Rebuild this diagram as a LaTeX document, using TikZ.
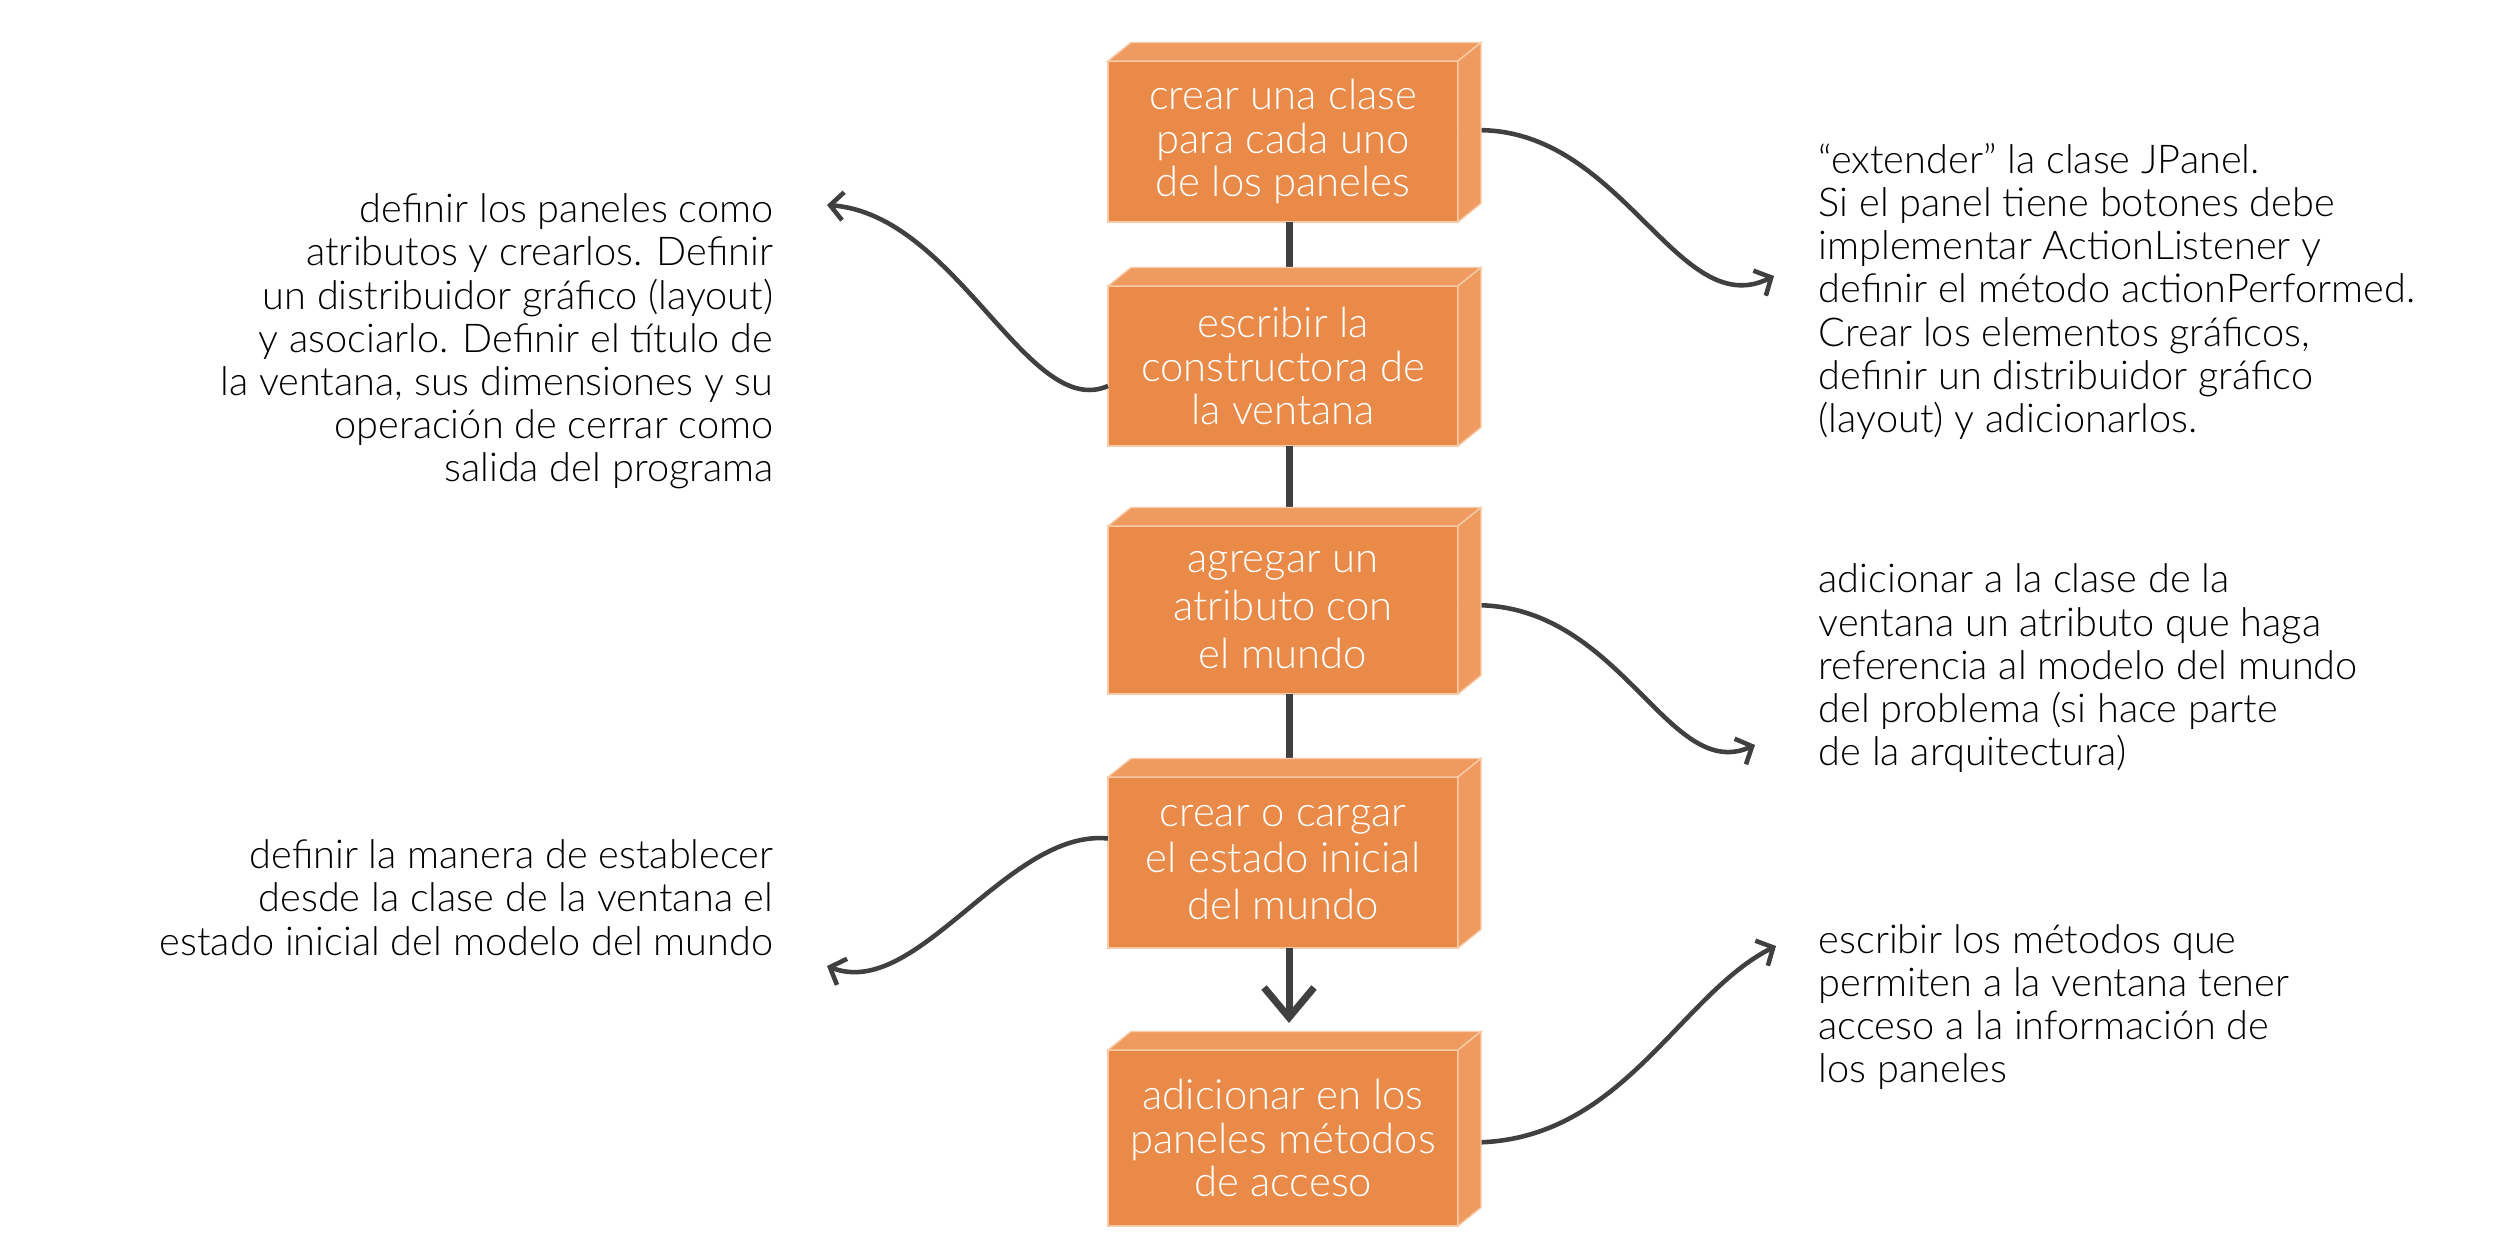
\documentclass[tikz,border=0pt]{standalone}
\usepackage{fontspec}
\setmainfont{Lato Light}
\usepackage{tikz}
\usetikzlibrary{arrows.meta}
\definecolor{box orange}{HTML}{E98A48}
\definecolor{face orange}{HTML}{EF9B60}
\definecolor{edge orange}{HTML}{F7CBA8}
\definecolor{line gray}{HTML}{404040}
\tikzset{orange box/.style={rectangle, fill=box orange, draw=edge orange, line width=0.4pt, minimum width=3.5cm, minimum height=1.65cm, inner sep=0pt, outer sep=0pt, text=white, align=center, font=\fontsize{11.9}{12.3}\selectfont}}
\tikzset{box face/.style={fill=face orange, draw=edge orange, line width=0.4pt}}
\tikzset{flow line/.style={line gray, line width=2pt}}
\tikzset{note arrow/.style={line gray, line width=1.3pt, -{Straight Barb[length=1.3mm,width=2.8mm]}}}
\tikzset{note text/.style={inner sep=0pt, text=black, font=\fontsize{11.3}{12.3}\selectfont}}

\begin{document}
\begin{tikzpicture}
\useasboundingbox (0,0) rectangle (25,12.53);

% Steps in the middle column
\node[orange box, minimum height=1.61cm] (b1) at (12.83,11.115) {crear una clase\\para cada uno\\de los paneles};
\node[orange box, minimum height=1.60cm] (b2) at (12.83,8.87) {escribir la\\constructora de\\la ventana};
\node[orange box, minimum height=1.68cm, font=\fontsize{11.9}{13.7}\selectfont] (b3) at (12.83,6.43) {agregar un\\atributo con\\el mundo};
\node[orange box, minimum height=1.71cm, font=\fontsize{11.9}{13.2}\selectfont] (b4) at (12.83,3.905) {crear o cargar\\el estado inicial\\del mundo};
\node[orange box, minimum height=1.76cm] (b5) at (12.83,1.15) {adicionar en los\\paneles métodos\\de acceso};

% Notes on both sides
\node[note text, anchor=east, align=right] (n1) at (7.74,9.115) {definir los paneles como\\atributos y crearlos. Definir\\un distribuidor gráfico (layout)\\y asociarlo. Definir el título de\\la ventana, sus dimensiones y su\\operación de cerrar como\\salida del programa};
\node[note text, anchor=west, align=left] (n2) at (18.18,9.615) {“extender” la clase JPanel.\\Si el panel tiene botones debe\\implementar ActionListener y\\definir el método actionPerformed.\\Crear los elementos gráficos,\\definir un distribuidor gráfico\\(layout) y adicionarlos.};
\node[note text, anchor=west, align=left] (n3) at (18.18,5.845) {adicionar a la clase de la\\ventana un atributo que haga\\referencia al modelo del mundo\\del problema (si hace parte\\de la arquitectura)};
\node[note text, anchor=east, align=right] (n4) at (7.74,3.555) {definir la manera de establecer\\desde la clase de la ventana el\\estado inicial del modelo del mundo};
\node[note text, anchor=west, align=left] (n5) at (18.18,2.46) {escribir los métodos que\\permiten a la ventana tener\\acceso a la información de\\los paneles};

% Ends of the curved arrows
\coordinate (e1) at (17.74,9.77);
\coordinate (e2) at (8.27,10.48);
\coordinate (e3) at (17.55,5.08);
\coordinate (e4) at (8.27,2.87);
\coordinate (e5) at (17.76,3.07);

% Vertical flow
\draw[flow line] ([xshift=0.6mm]b1.south) -- ([xshift=0.6mm]b2.north);
\draw[flow line] ([xshift=0.6mm]b2.south) -- ([xshift=0.6mm]b3.north);
\draw[flow line] ([xshift=0.6mm]b3.south) -- ([xshift=0.6mm]b4.north);
\draw[flow line, -{Straight Barb[length=3mm,width=5mm]}] ([xshift=0.6mm]b4.south) -- ([xshift=0.6mm,yshift=2.7mm]b5.north);

% Curved arrows to the notes
\draw[note arrow] ([yshift=1mm]b1.east) .. controls +(1.6,0.2) and +(-1.0,-0.5) .. (e1);
\draw[note arrow] ([yshift=-2mm]b2.west) .. controls +(-0.8,-0.35) and +(1.3,-0.1) .. (e2);
\draw[note arrow] ([yshift=0.4mm]b3.east) .. controls +(1.6,0.15) and +(-0.9,-0.4) .. (e3);
\draw[note arrow] ([yshift=2.4mm]b4.west) .. controls +(-1.0,0.1) and +(0.9,-0.35) .. (e4);
\draw[note arrow] ([yshift=-0.4mm]b5.east) .. controls +(1.6,-0.1) and +(-1.0,-0.5) .. (e5);

% Top and side faces of the boxes
\foreach \b in {b1,b2,b3,b4,b5} {
  \draw[box face] (\b.north west) -- ++(0.23,0.185) -- ([shift={(0.23,0.185)}]\b.north east) -- (\b.north east) -- cycle;
  \draw[box face] (\b.north east) -- ++(0.23,0.185) -- ([shift={(0.23,0.185)}]\b.south east) -- (\b.south east) -- cycle;
}

\end{tikzpicture}
\end{document}
